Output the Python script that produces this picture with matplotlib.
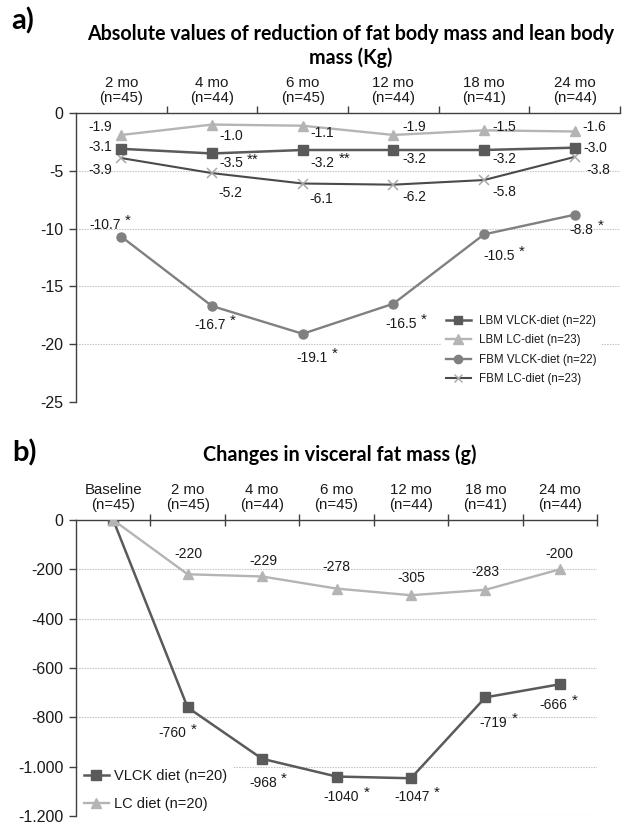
import numpy as np
import matplotlib
matplotlib.use("Agg")
import matplotlib.pyplot as plt
from matplotlib.lines import Line2D

# ---------------- data ----------------
periods_a = ["2 mo", "4 mo", "6 mo", "12 mo", "18 mo", "24 mo"]
n_a = [45, 44, 45, 44, 41, 44]
lbm_vlck = [-3.1, -3.5, -3.2, -3.2, -3.2, -3.0]
lbm_lc = [-1.9, -1.0, -1.1, -1.9, -1.5, -1.6]
fbm_vlck = [-10.7, -16.7, -19.1, -16.5, -10.5, -8.8]
fbm_lc = [-3.9, -5.2, -6.1, -6.2, -5.8, -3.8]
sig_lbm_vlck = ["", "**", "**", "", "", ""]
sig_fbm_vlck = ["*", "*", "*", "*", "*", "*"]
legend_a = ["LBM VLCK-diet (n=22)", "LBM LC-diet (n=23)",
            "FBM VLCK-diet (n=22)", "FBM LC-diet (n=23)"]
yticks_a = [0, -5, -10, -15, -20, -25]

periods_b = ["Baseline", "2 mo", "4 mo", "6 mo", "12 mo", "18 mo", "24 mo"]
n_b = [45, 45, 44, 45, 44, 41, 44]
vlck_b = [0, -760, -968, -1040, -1047, -719, -666]
lc_b = [0, -220, -229, -278, -305, -283, -200]
sig_vlck_b = ["", "*", "*", "*", "*", "*", "*"]
legend_b = ["VLCK diet (n=20)", "LC diet (n=20)"]
yticks_b = [0, -200, -400, -600, -800, -1000, -1200]

# label offsets (pixels, right / down) -- layout only
off_lbm_lc = [(-21, -8), (19, 11), (20, 7), (21, -8), (20, -3), (20, -4)]
off_lbm_vlck = [(-21, -2), (19, 10), (20, 13), (21, 9), (20, 9), (21, 0)]
off_fbm_lc = [(-21, 12), (18, 20), (19, 15), (21, 12), (20, 12), (24, 13)]
off_fbm_vlck = [(-16, -12), (-2, 19), (9, 24), (8, 20), (15, 22), (7, 15)]
off_lc_b = [None, (1, -20), (1, -15), (0, -22), (0, -17), (0, -18), (0, -15)]
off_vlck_b = [None, (-15, 26), (1, 24), (5, 20), (1, 19), (8, 26), (-6, 21)]

# ---------------- style ----------------
W, H = 623, 824
FONT = ["Liberation Sans", "DejaVu Sans"]
TFONT = ["Lato", "DejaVu Sans"]
plt.rcParams["font.family"] = FONT
AX_COL = "#404040"
GRID_COL = "#bdbdbd"
C_DARK = "#5a5a5a"
C_LIGHT = "#b4b4b4"
C_MID = "#808080"
C_FLC = "#4a4a4a"
C_FLC_M = "#a8a8a8"
TXT = "#1a1a1a"
VAL_FS = 10
PX = 0.72  # points per pixel at 100 dpi

fig = plt.figure(figsize=(W / 100, H / 100), dpi=100)


def rect(l, r, t, b):
    return [l / W, 1 - b / H, (r - l) / W, (b - t) / H]


def style_axes(ax, cats, ns, yticks, ytlabels, tick_dir, tick_len):
    n = len(cats)
    ax.set_xlim(-0.5, n - 0.5)
    ax.set_ylim(min(yticks), 0)
    for s in ["bottom", "right"]:
        ax.spines[s].set_visible(False)
    for s in ["top", "left"]:
        ax.spines[s].set_color(AX_COL)
        ax.spines[s].set_linewidth(1.0)
    ax.xaxis.set_ticks_position("top")
    ax.set_xticks(np.arange(0.5, n, 1.0))
    ax.set_xticklabels([])
    ax.set_xticks(np.arange(n), [f"{c}\n(n={k})" for c, k in zip(cats, ns)], minor=True)
    ax.tick_params(axis="x", which="major", direction=tick_dir, length=tick_len,
                   width=1.0, color=AX_COL)
    ax.tick_params(axis="x", which="minor", length=0, pad=6, labelsize=10.8,
                   labelcolor=TXT)
    for t in ax.get_xticklabels(minor=True):
        t.set_linespacing(1.05)
    ax.set_yticks(yticks, ytlabels)
    ax.tick_params(axis="y", direction="out", length=5, width=1.0, color=AX_COL,
                   labelsize=11.5, labelcolor=TXT, pad=4)
    ax.yaxis.grid(True, linestyle=(0, (1.2, 1.2)), color=GRID_COL, linewidth=0.8)
    ax.set_axisbelow(True)


def label(ax, x, y, txt, off, star=""):
    t = ax.annotate(txt, (x, y), xytext=(off[0] * PX, -off[1] * PX),
                    textcoords="offset points", ha="center", va="center",
                    fontsize=VAL_FS, color=TXT, zorder=6)
    if star:
        ax.annotate(star, xy=(1, 1), xycoords=t, xytext=(3, 3),
                    textcoords="offset points", ha="left", va="top",
                    fontsize=11, color=TXT, zorder=6)


# ---------------- panel a ----------------
ax = fig.add_axes(rect(76, 620, 113, 402))
style_axes(ax, periods_a, n_a, yticks_a, [str(v) for v in yticks_a], "out", 5)
xa = np.arange(len(periods_a))
ax.plot(xa, fbm_lc, color=C_FLC, lw=1.5, marker="x", ms=7, mew=1.1,
        mec=C_FLC_M, zorder=3)
ax.plot(xa, fbm_vlck, color=C_MID, lw=1.7, marker="o", ms=6.5, zorder=3)
ax.plot(xa, lbm_vlck, color=C_DARK, lw=1.8, marker="s", ms=7, zorder=4)
ax.plot(xa, lbm_lc, color=C_LIGHT, lw=1.7, marker="^", ms=7.5, zorder=4)

for i in range(len(xa)):
    label(ax, xa[i], lbm_lc[i], f"{lbm_lc[i]:.1f}", off_lbm_lc[i])
    label(ax, xa[i], lbm_vlck[i], f"{lbm_vlck[i]:.1f}", off_lbm_vlck[i], sig_lbm_vlck[i])
    label(ax, xa[i], fbm_lc[i], f"{fbm_lc[i]:.1f}", off_fbm_lc[i])
    label(ax, xa[i], fbm_vlck[i], f"{fbm_vlck[i]:.1f}", off_fbm_vlck[i], sig_fbm_vlck[i])

handles_a = [
    Line2D([], [], color=C_DARK, lw=1.8, marker="s", ms=6),
    Line2D([], [], color=C_LIGHT, lw=1.7, marker="^", ms=6.5),
    Line2D([], [], color=C_MID, lw=1.7, marker="o", ms=6),
    Line2D([], [], color=C_FLC, lw=1.5, marker="x", ms=6, mec=C_FLC_M),
]
leg = ax.legend(handles_a, legend_a, loc="upper left",
                bbox_to_anchor=(441 / W, 1 - 310 / H), bbox_transform=fig.transFigure,
                fontsize=8.3, frameon=True, framealpha=1, facecolor="white",
                edgecolor="none", fancybox=False, handlelength=2.2,
                handletextpad=0.7, labelspacing=0.65, borderpad=0.4,
                borderaxespad=0)
for t in leg.get_texts():
    t.set_color(TXT)

fig.text(11 / W, 1 - 21 / H, "a)", fontsize=21, fontweight="bold",
         family=TFONT, ha="left", va="center", color="black")
fig.text(351 / W, 1 - 46 / H,
         "Absolute values of reduction of fat body mass and lean body\nmass (Kg)",
         fontsize=14.1, fontweight="bold", family=TFONT, ha="center", va="center",
         linespacing=1.15, color="black")

# ---------------- panel b ----------------
ax2 = fig.add_axes(rect(76, 597, 520, 816))
fmt_b = [f"{v:,}".replace(",", ".") for v in yticks_b]
style_axes(ax2, periods_b, n_b, yticks_b, fmt_b, "inout", 8)
xb = np.arange(len(periods_b))
ax2.plot(xb, vlck_b, color=C_DARK, lw=1.8, marker="s", ms=7, zorder=3)
ax2.plot(xb, lc_b, color=C_LIGHT, lw=1.7, marker="^", ms=7.5, zorder=4)
for i in range(len(xb)):
    if off_lc_b[i] is not None:
        label(ax2, xb[i], lc_b[i], f"{lc_b[i]:d}", off_lc_b[i])
    if off_vlck_b[i] is not None:
        label(ax2, xb[i], vlck_b[i], f"{vlck_b[i]:d}", off_vlck_b[i], sig_vlck_b[i])

handles_b = [
    Line2D([], [], color=C_DARK, lw=1.8, marker="s", ms=6.5),
    Line2D([], [], color=C_LIGHT, lw=1.7, marker="^", ms=7),
]
leg2 = ax2.legend(handles_b, legend_b, loc="upper left",
                  bbox_to_anchor=(78 / W, 1 - 763 / H), bbox_transform=fig.transFigure,
                  fontsize=10.5, frameon=True, framealpha=1, facecolor="white",
                  edgecolor="none", fancybox=False, handlelength=1.7,
                  handletextpad=0.35, labelspacing=0.95, borderpad=0.4,
                  borderaxespad=0)
for t in leg2.get_texts():
    t.set_color(TXT)

fig.text(12 / W, 1 - 453 / H, "b)", fontsize=21, fontweight="bold",
         family=TFONT, ha="left", va="center", color="black")
fig.text(340 / W, 1 - 455 / H, "Changes in visceral fat mass (g)",
         fontsize=14.3, fontweight="bold", family=TFONT, ha="center", va="center",
         color="black")

fig.savefig("out.png", dpi=100, facecolor="white")
